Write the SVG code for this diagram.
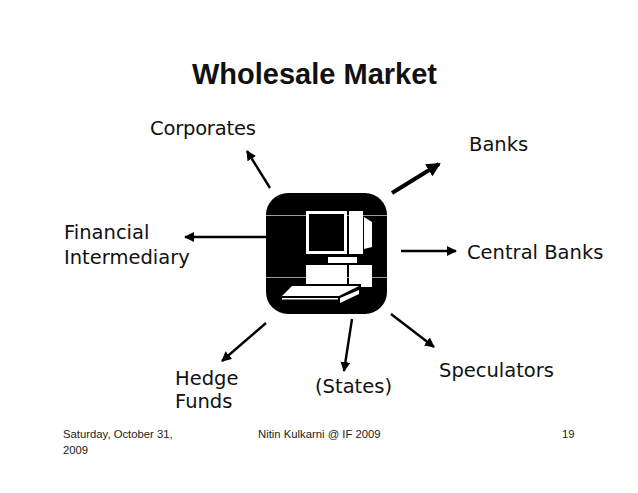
<svg xmlns="http://www.w3.org/2000/svg" width="638" height="493" viewBox="0 0 638 493">
<style>
.l{font-family:"DejaVu Sans",sans-serif;font-size:19.500px;fill:#111}
.f{font-family:"Liberation Sans",Arial,sans-serif;font-size:11.300px;fill:#222}
.c{stroke:#000;stroke-width:2.400;fill:none;marker-end:url(#a)}
</style>
<defs><marker id="a" markerUnits="userSpaceOnUse" markerWidth="12" markerHeight="10" refX="9" refY="5" orient="auto"><path d="M0 0L10 5L0 10Z" fill="#000"/></marker>
<marker id="b" markerUnits="userSpaceOnUse" markerWidth="14" markerHeight="14" refX="12" refY="7" orient="auto"><path d="M0 0L14 7L0 14Z" fill="#000"/></marker></defs>
<rect width="638" height="493" fill="#fff"/>
<text id="title" x="314.500" y="84" text-anchor="middle" font-family="Liberation Sans,Arial,sans-serif" font-weight="700" font-size="29" fill="#111">Wholesale Market</text>
<g id="connectors">
<path class="c" d="M270 188L247 151"/>
<path class="c" d="M392 193L439 164" style="stroke-width:4;marker-end:url(#b)"/>
<path class="c" d="M266 237H185"/>
<path class="c" d="M401 251H456"/>
<path class="c" d="M266 323L222 361"/>
<path class="c" d="M352 319L344 371"/>
<path class="c" d="M391 314L434 347"/>
</g>
<g id="computer">
<rect x="266" y="193" width="121" height="121" rx="22" fill="#000"/>
<path d="M266 215.500H387M266 277.500H387" stroke="#999" stroke-width="1"/>
<path fill="#fff" d="M306 211H347V254H306ZM349 211H363V254H349ZM364 217L372 222V247L364 249ZM328 257H357V263H328ZM306 265H347V285H306ZM349 265H372V287H349Z"/>
<rect x="309" y="214" width="35" height="37" fill="#000"/>
<path fill="#000" d="M290 284H361V291L340 301H280V296Z"/>
<path fill="#fff" d="M292 286H359L339 296H282Z"/>
<path fill="#fff" d="M340 298L359 290V294L340 303Z"/>
<path fill="#fff" d="M282 298H338V299.500H282Z"/>
</g>
<g id="corporates"><text class="l" x="150" y="135" style="letter-spacing:-.2px">Corporates</text></g>
<g id="banks"><text class="l" x="469" y="151">Banks</text></g>
<g id="financial"><text class="l" x="64" y="239">Financial</text><text class="l" x="64" y="264">Intermediary</text></g>
<g id="central"><text class="l" x="467" y="259">Central Banks</text></g>
<g id="speculators"><text class="l" x="439" y="377">Speculators</text></g>
<g id="states"><text class="l" x="315" y="393">(States)</text></g>
<g id="hedge"><text class="l" x="175" y="385">Hedge</text><text class="l" x="175" y="408">Funds</text></g>
<g id="footer">
<text class="f" x="63" y="438">Saturday, October 31,</text><text class="f" x="63" y="454">2009</text>
<text class="f" x="258" y="438">Nitin Kulkarni @ IF 2009</text>
<text class="f" x="562" y="438">19</text>
</g>
</svg>
